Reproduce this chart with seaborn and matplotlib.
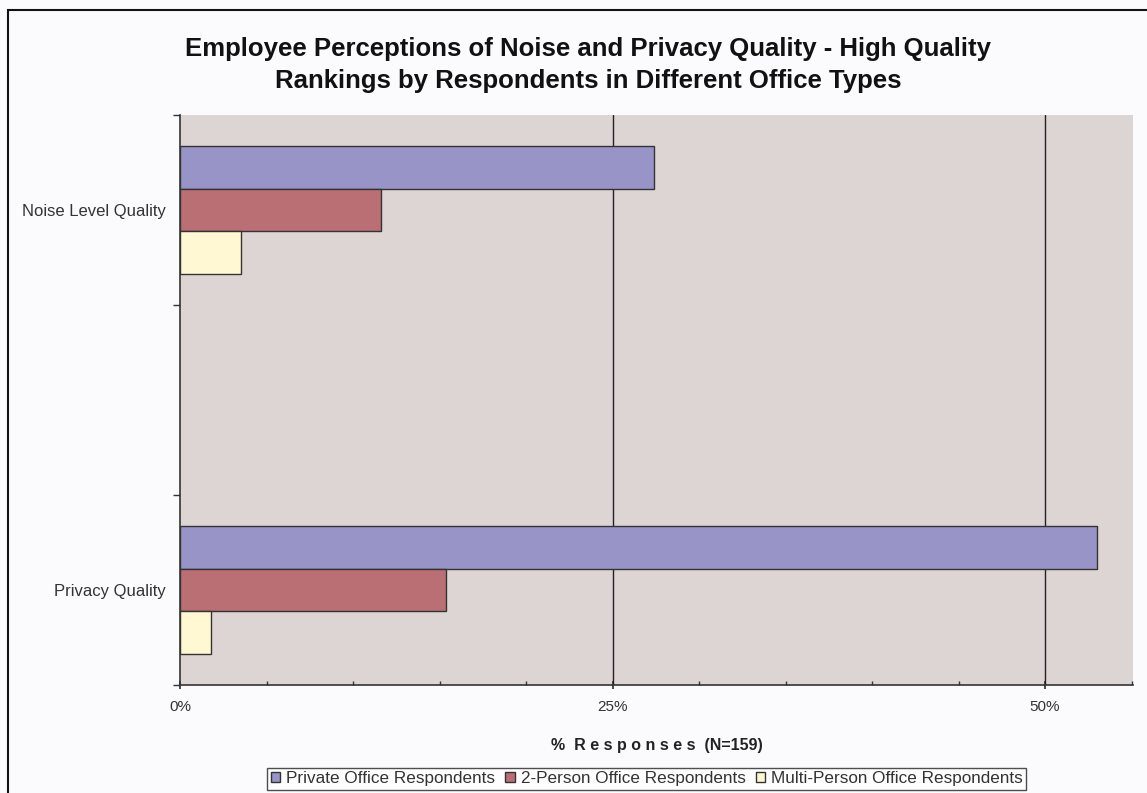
import pandas as pd
import numpy as np
import matplotlib
matplotlib.use('Agg')
import matplotlib.pyplot as plt
import seaborn as sns
from matplotlib.patches import Rectangle
from matplotlib.ticker import FuncFormatter, MultipleLocator

# data (% of responses)
categories = ['Noise Level Quality', 'Privacy Quality']
groups = ['Private Office Respondents', '2-Person Office Respondents', 'Multi-Person Office Respondents']
private_vals = [27.4, 53.0]
two_person_vals = [11.6, 15.4]
multi_vals = [3.5, 1.8]

colors = ['#9994C8', '#BA6F75', '#FFF8D2']

rows = []
for g, vals in zip(groups, [private_vals, two_person_vals, multi_vals]):
    for c, v in zip(categories, vals):
        rows.append({'category': c, 'group': g, 'value': v})
df = pd.DataFrame(rows)

sns.set_theme(style='white')
plt.rcParams['font.family'] = ['Liberation Sans', 'DejaVu Sans']

fig = plt.figure(figsize=(11.47, 7.93), dpi=100, facecolor='#FBFBFD')
ax = fig.add_axes([0.157, 0.136, 0.831, 0.719])
ax.set_facecolor('#DDD5D3')

# empty middle slot like the original workbook
order = ['Noise Level Quality', ' ', 'Privacy Quality']
sns.barplot(data=df, y='category', x='value', hue='group', order=order,
            hue_order=groups, palette=colors, saturation=1, orient='h', width=0.67,
            edgecolor='#333333', linewidth=1.0, ax=ax, zorder=3)

ax.set_xlim(0, 55.1)
ax.set_ylim(2.5, -0.5)
ax.xaxis.set_major_locator(MultipleLocator(25))
ax.xaxis.set_minor_locator(MultipleLocator(5))
ax.xaxis.set_major_formatter(FuncFormatter(lambda v, p: f'{v:.0f}%'))
for x in [25, 50]:
    ax.axvline(x, color='#222222', linewidth=1.0, zorder=1)

ax.set_yticks([0, 2], ['Noise Level Quality', 'Privacy Quality'])
ax.set_yticks([-0.5, 0.5, 1.5, 2.5], minor=True)
ax.tick_params(axis='y', which='major', length=0, pad=10, labelsize=12, colors='#333333')
ax.tick_params(axis='y', which='minor', length=5, direction='out', color='#333333', left=True)
ax.tick_params(axis='x', which='major', length=6, direction='inout', labelsize=11, pad=8,
               colors='#333333', bottom=True)
ax.tick_params(axis='x', which='minor', length=3, direction='in', color='#333333', bottom=True)

for s in ['top', 'right']:
    ax.spines[s].set_visible(False)
for s in ['left', 'bottom']:
    ax.spines[s].set_color('#333333')
    ax.spines[s].set_linewidth(1.2)

ax.set_ylabel('')
ax.set_xlabel('%  R e s p o n s e s  (N=159)', fontsize=11.5, fontweight='bold', labelpad=17,
              color='#222222')

fig.text(0.513, 0.918, 'Employee Perceptions of Noise and Privacy Quality - High Quality\n'
         'Rankings by Respondents in Different Office Types',
         ha='center', va='center', fontsize=18.5, fontweight='bold', linespacing=1.45,
         color='#111111')

ax.legend_.remove()
handles, labels = ax.get_legend_handles_labels()
leg = fig.legend(handles, labels, loc='center', bbox_to_anchor=(0.564, 0.018), ncol=3,
                 fontsize=12.3, frameon=True, fancybox=False, edgecolor='#222222',
                 handlelength=0.55, handleheight=0.55, handletextpad=0.35, columnspacing=0.6,
                 borderpad=0.2, borderaxespad=0)
leg.get_frame().set_linewidth(1.0)
for t in leg.get_texts():
    t.set_color('#333333')

# outer chart border
fig.patches.append(Rectangle((8 / 1147, -0.1), 1.2, 1 - 10 / 793 + 0.1,
                             transform=fig.transFigure, fill=False,
                             edgecolor='#111111', linewidth=1.5))

plt.savefig('out.png', dpi=100, facecolor=fig.get_facecolor())
